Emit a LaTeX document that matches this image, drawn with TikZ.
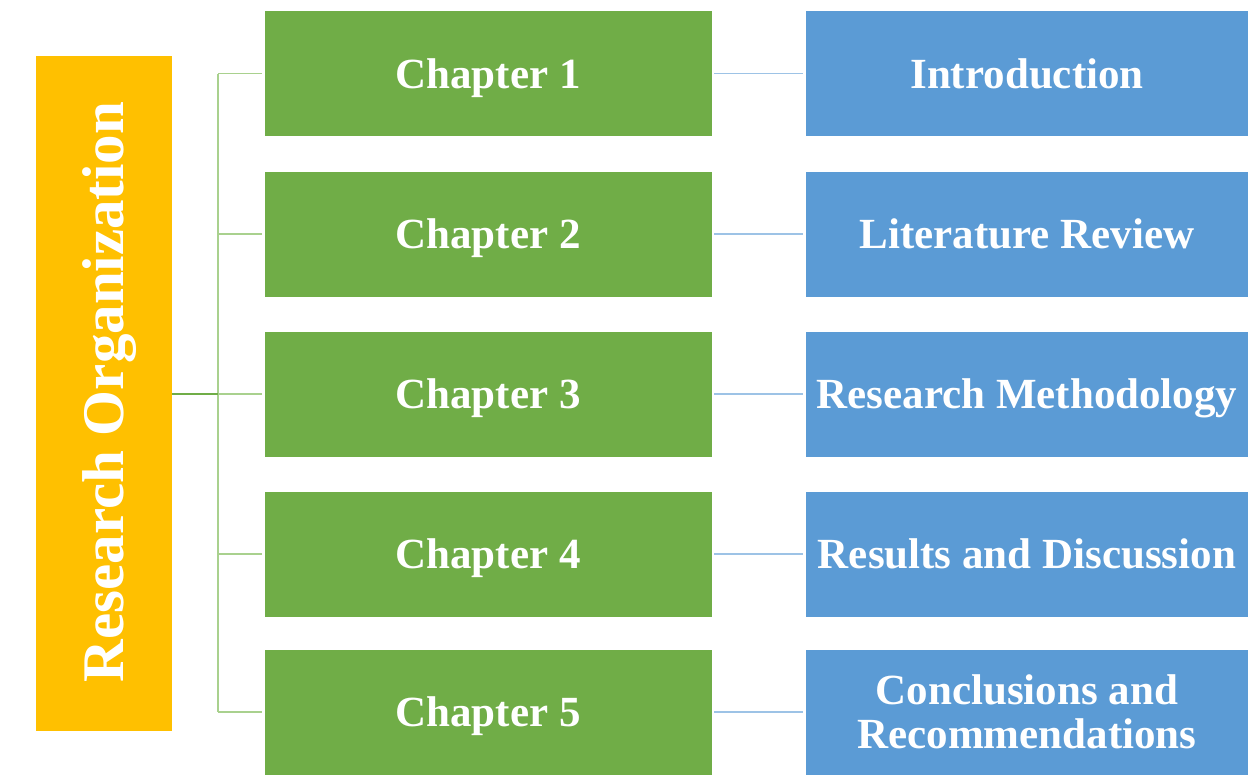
\documentclass[tikz,border=0pt]{standalone}
\usepackage{fontspec}
\setmainfont{Liberation Serif}
\definecolor{cgreen}{HTML}{70AD47}
\definecolor{cblue}{HTML}{5B9BD5}
\definecolor{corange}{HTML}{FFC000}
\definecolor{lgreen}{HTML}{A9D18E}
\definecolor{lblue}{HTML}{9DC3E6}
\begin{document}
\begin{tikzpicture}[x=1pt,y=-1pt,
  chapbox/.style={fill=cgreen, draw=white, line width=0.6pt, minimum width=448pt, minimum height=126pt, inner sep=0pt, text depth=0pt, text=white, font=\bfseries\fontsize{43}{44}\selectfont},
  topicbox/.style={fill=cblue, draw=white, line width=0.6pt, minimum width=444pt, minimum height=126pt, inner sep=0pt, text depth=0pt, text=white, align=center, font=\bfseries\fontsize{43}{44}\selectfont},
  trunkline/.style={draw=lgreen, line width=1.6pt},
  mainline/.style={draw=cgreen, line width=1.6pt},
  topicline/.style={draw=lblue, line width=1.8pt}]
\useasboundingbox (0,0) rectangle (1248,774);
\fill[white] (0,0) rectangle (1248,774);
\begin{scope}
\clip (0,0) rectangle (1248,774);
\fill[corange] (36,56) rectangle (172,731);
\node (org) [rotate=90, anchor=base, text=white, font=\bfseries\fontsize{59}{60}\selectfont, inner sep=0pt] at (123,392) {Research Organization};
\coordinate (orgR) at (172,394);
\coordinate (hub) at (218,394);
\foreach \i/\yy/\topic in {1/73.5/Introduction, 2/234/Literature Review, 3/394/Research Methodology, 4/554/Results and Discussion, 5/712/{Conclusions and\\Recommendations}} {
  \node[chapbox] (ch\i) at (488,\yy) {Chapter \i};
  \node[topicbox] (tp\i) at (1027,\yy) {\topic};
  \draw[topicline] ([xshift=2pt]ch\i.east) -- ([xshift=-2pt]tp\i.west);
}
\draw[trunkline] (218,73.5) -- (218,712);
\foreach \i in {1,...,5} {
  \draw[trunkline] (218,0 |- ch\i.west) -- ([xshift=-2pt]ch\i.west);
}
\draw[mainline] (orgR) -- (hub);
\end{scope}
\end{tikzpicture}
\end{document}
